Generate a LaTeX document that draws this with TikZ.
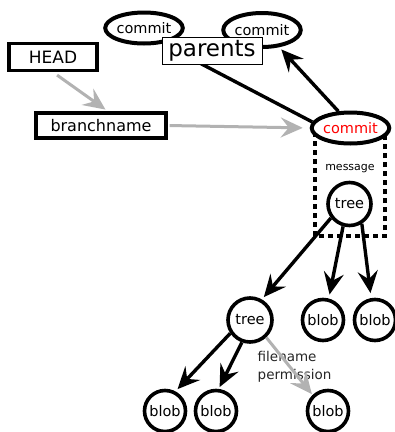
\documentclass[tikz,border=0pt]{standalone}
\usepackage{fontspec}
\setmainfont{DejaVu Sans}
\usetikzlibrary{shapes.geometric,arrows.meta}
\tikzset{
  fs/.style={font=\fontsize{#1}{#1}\selectfont},
  ell/.style={ellipse,draw,line width=4pt,fill=white,inner sep=0pt,fs=14.5},
  circ/.style={circle,draw,line width=3.6pt,fill=white,inner sep=0pt,minimum size=41pt,fs=14.5},
  box/.style={rectangle,draw,line width=3.4pt,fill=white,inner sep=0pt,fs=16},
  blk/.style={line width=3.4pt,-{Stealth[length=22pt,width=20pt,inset=8pt]}},
  gry/.style={line width=3pt,draw=black!30,-{Stealth[length=22pt,width=20pt,inset=8pt]}},
  dbox/.style={line width=3.4pt,dash pattern=on 5pt off 4pt}
}
\begin{document}
\begin{tikzpicture}[x=1pt,y=-1pt]
\useasboundingbox (0,0) rectangle (395,432);
% dashed frame
\draw[dbox] (315,132) -- (315,236) -- (385,236) -- (385,132);
% nodes
\node[ell,minimum width=74pt,minimum height=31pt] (c1) at (144,28) {commit};
\node[ell,minimum width=70pt,minimum height=34pt] (c2) at (262,30) {commit};
\node[ell,minimum width=74pt,minimum height=31pt,text=red] (cm) at (350.5,128) {commit};
\node[box,minimum width=88pt,minimum height=27pt,fs=17] (head) at (53,57) {HEAD};
\node[box,minimum width=130pt,minimum height=25pt] (bn) at (101,125.5) {branchname};
\node[fs=11] (msg) at (350,169) {message};
\node[circ,minimum size=43pt] (tree) at (349.5,204) {tree};
\node[circ,minimum size=44pt] (tree2) at (250,320) {tree};
\node[circ] (b1) at (323,320) {blob};
\node[circ] (b2) at (375,320) {blob};
\node[circ] (b3) at (165,411) {blob};
\node[circ] (b4) at (216,411) {blob};
\node[circ] (b5) at (328,411) {blob};
\node[font=\fontsize{13.5}{18}\selectfont,align=left,anchor=west,inner sep=0pt,text=black!85] (fp) at (257.5,367) {filename\\permission};
% connectors
\draw[gry,shorten <=5pt,shorten >=3pt] (head.south) -- (bn.64);
\draw[gry,shorten <=2pt,shorten >=7pt] (bn.east) -- (cm.west);
\draw[blk,shorten >=2pt] (cm.171) -- (c1.-40);
\draw[blk,shorten >=3pt] (cm.126) -- (c2.-45);
\draw[blk,shorten >=3pt] (tree.-143) -- (tree2.60);
\draw[blk,shorten >=4pt] (tree.-106) -- (b1.75);
\draw[blk,shorten >=5pt] (tree.-58) -- (b2.100);
\draw[blk,shorten >=3pt] (tree2.-146) -- (b3.62);
\draw[blk,shorten >=2pt] (tree2.-110) -- (b4.83);
\draw[gry,shorten >=1pt] (tree2.-47) -- (b5.134);
% parents label on top
\node[draw,line width=1pt,fill=white,minimum width=100pt,minimum height=27pt,inner sep=0pt,fs=23] (par) at (212,50.5) {parents};
\end{tikzpicture}
\end{document}
